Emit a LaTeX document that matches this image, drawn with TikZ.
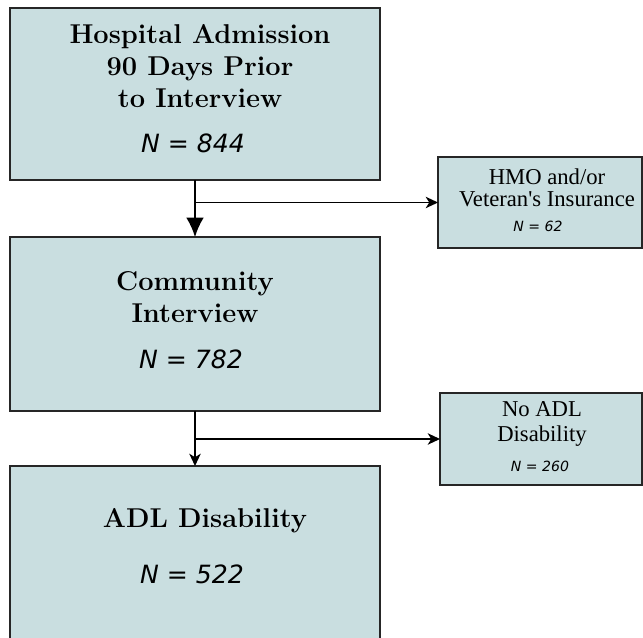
\documentclass[tikz,border=0pt]{standalone}
\usepackage{fontspec}
\newfontfamily\sidefont{Liberation Serif}
\newfontfamily\countfont{DejaVu Sans}
\usetikzlibrary{arrows.meta}
\definecolor{boxfill}{RGB}{201,222,224}
\begin{document}
\begin{tikzpicture}[x=0.02cm,y=-0.02cm,
	box/.style={draw=black!85,fill=boxfill,line width=0.8pt,inner sep=0pt,outer sep=0pt},
	title/.style={align=center,inner sep=0pt,font=\fontsize{15.5}{18.2}\selectfont\bfseries},
	count/.style={inner sep=0pt,font=\fontsize{14.3}{16}\selectfont\countfont\itshape},
	side/.style={align=center,inner sep=0pt,font=\fontsize{12.9}{12.6}\selectfont\sidefont},
	sidecount/.style={inner sep=0pt,font=\fontsize{8}{9}\selectfont\countfont\itshape},
	flow/.style={line width=0.9pt,-{Latex[length=11pt,width=10pt]}},
	branch/.style={line width=0.9pt,-{Stealth[length=7pt,width=6.5pt,inset=2pt]}}]
		\useasboundingbox (0,0) rectangle (643,638);
		\clip (0,0) rectangle (643,638);
		
		\node[box,minimum width=7.4cm,minimum height=3.44cm] (adm) at (195,94){};
		\node[box,minimum width=7.4cm,minimum height=3.48cm] (int) at (195,324){};
		\node[box,minimum width=7.4cm,minimum height=4.68cm] (adl) at (195,583){};
		\node[box,minimum width=4.08cm,minimum height=1.82cm] (hmo) at (540,202.5){};
		\node[box,minimum width=4.04cm,minimum height=1.84cm] (noadl) at (541,439){};
		
		\node[title] (admT) at (200,66) {Hospital Admission\\90 Days Prior\\to Interview};
		\node[count] (admN) at (193,143) {N = 844};
		\node[title] (intT) at (195,297) {Community\\Interview};
		\node[count] (intN) at (191,359) {N = 782};
		\node[title] (adlT) at (205,521) {ADL Disability};
		\node[count] (adlN) at (192,574) {N = 522};
		
		\node[side] (hmoT) at (547,188) {HMO and/or\\Veteran's Insurance};
		\node[sidecount] (hmoN) at (538,226) {N = 62};
		\node[side] (noadlT) at (542,424) {No ADL\\[2pt]Disability};
		\node[sidecount] (noadlN) at (540,466) {N = 260};
		
		\draw[flow] (adm.south) -- (int.north);
		\draw[branch] (adm.south |- hmo.west) -- (hmo.west);
		\draw[branch] (int.south) -- (adl.north);
		\draw[branch] (int.south |- noadl.west) -- (noadl.west);
\end{tikzpicture}
\end{document}
